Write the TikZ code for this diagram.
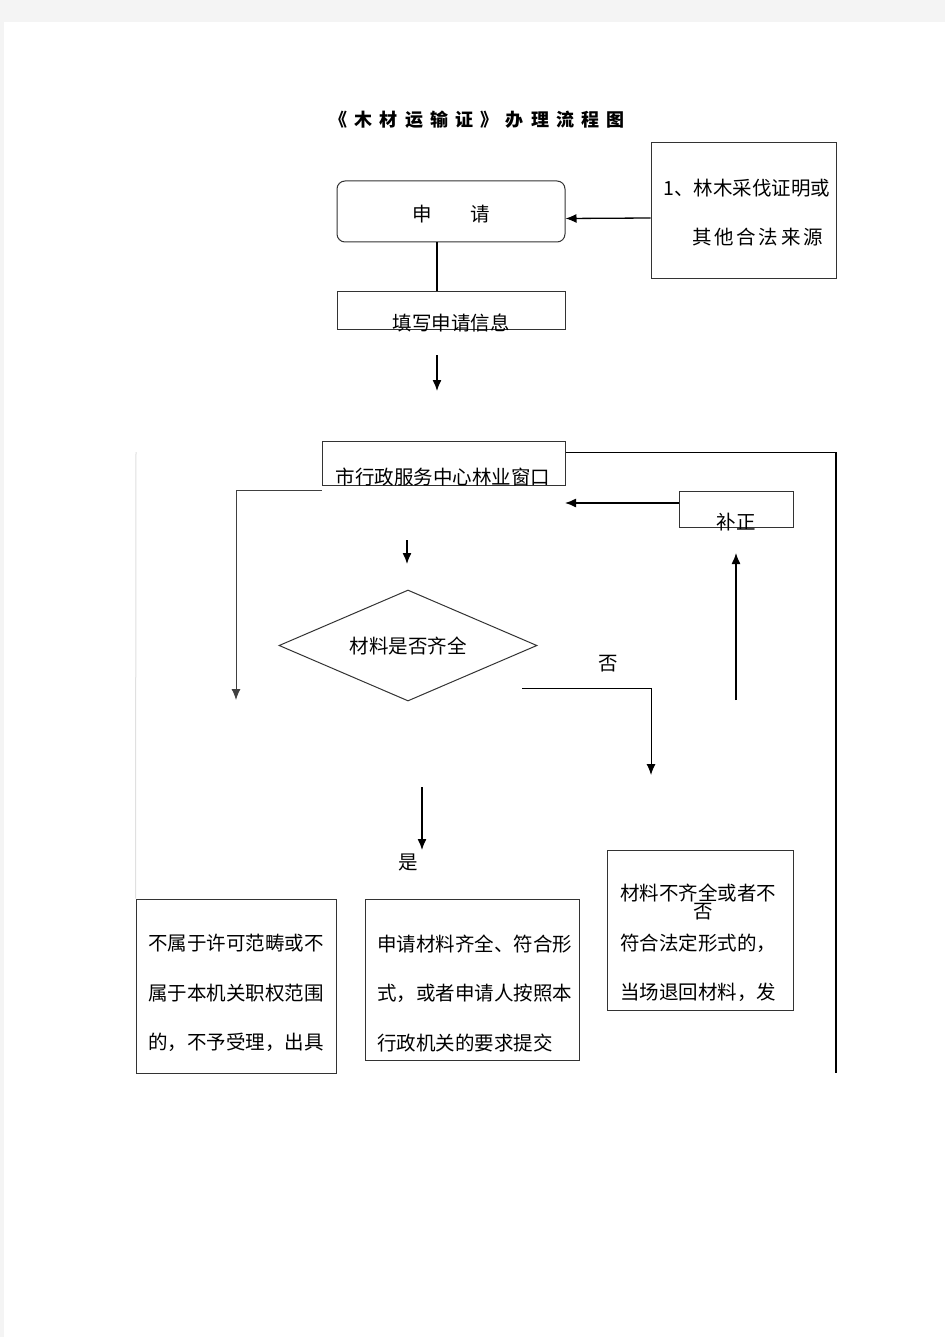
\documentclass[tikz,border=0pt]{standalone}
\usepackage{fontspec}
\usepackage{xcolor}
\newfontfamily\cjk{Noto Sans CJK SC}
\usetikzlibrary{shapes,arrows.meta}
\definecolor{pagegray}{HTML}{F4F4F4}

\begin{document}
\begin{tikzpicture}[x=1pt, y=-1pt,
	font=\cjk\fontsize{19.5}{49.5}\selectfont,
	box/.style={draw=black!80, line width=1pt, inner sep=0},
	txt/.style={inner sep=0, align=left, anchor=west},
	spaced/.style={font=\cjk\fontsize{19.5}{49.5}\selectfont\addfontfeatures{LetterSpace=14}},
	arr/.style={-{Latex[length=11pt,width=9pt]}, line width=1.3pt},
	link/.style={line width=1.2pt},
	faint/.style={draw=black!12, line width=1pt}
]
\useasboundingbox (0,0) rectangle (945,1337);
\fill[pagegray] (0,0) rectangle (945,1337);
\fill[white] (4,22) rectangle (945,1337);

\node[font=\cjk\bfseries\fontsize{18}{18}\selectfont\addfontfeatures{LetterSpace=40}] (title) at (477,120) {《木材运输证》办理流程图};

\node[box, rounded corners=8pt, minimum width=228pt, minimum height=61pt, text height=22pt, text depth=2pt] (shen) at (451,211.5) {申　　请};
\node[box, minimum width=185pt, minimum height=136pt] (src) at (743.5,211) {};
\node[txt] (srcA) at (663,188) {1、林木采伐证明或};
\node[txt, spaced] (srcB) at (692,237) {其他合法来源};

\node[box, minimum width=228pt, minimum height=37pt] (fill) at (451,310.5) {};
\node (fillT) at (451,323) {填写申请信息};

\node[box, minimum width=243pt, minimum height=44pt] (window) at (443.5,463) {};
\node (windowT) at (443,477) {市行政服务中心林业窗口};

\node[box, minimum width=114pt, minimum height=36pt] (bu) at (736,509) {};
\node (buT) at (736,522) {补正};

\node[diamond, aspect=2.32, draw=black!80, line width=1pt, inner sep=0, minimum width=258pt, minimum height=111pt] (check) at (408,645.5) {材料是否齐全};
\node (no) at (608,664) {否};
\node (yes) at (408,862) {是};

\node[box, minimum width=200pt, minimum height=174pt] (boxA) at (236,986) {};
\node[txt] (boxAT) at (148,993) {不属于许可范畴或不\\属于本机关职权范围\\的，不予受理，出具};
\node[box, minimum width=214pt, minimum height=161pt] (boxB) at (472,979.5) {};
\node[txt] (boxBT) at (377,993) {申请材料齐全、符合形\\式，或者申请人按照本\\行政机关的要求提交};
\node[box, minimum width=186pt, minimum height=160pt] (boxC) at (700,930) {};
\node[txt] (boxCT) at (620,943) {材料不齐全或者不\\符合法定形式的，\\当场退回材料，发};
\node (boxCno) at (703,912) {否};

\coordinate (a1s) at (437,355);
\coordinate (a1e) at (437,391);
\coordinate (a2s) at (407,540);
\coordinate (a2e) at (407,564);
\coordinate (noS) at (522,688);
\coordinate (noE) at (651,775);
\coordinate (upS) at (736,700);
\coordinate (upE) at (736,553);
\coordinate (yesS) at (422,787);
\coordinate (yesE) at (422,850);
\coordinate (leftEnd) at (236,700);
\coordinate (buEnd) at (565,503);
\coordinate (rEnd) at (836,1073);
\coordinate (lgTop) at (136,452);

\draw[arr] ([yshift=-7pt]src.west) -- ([yshift=-7pt]shen.east);
\draw[link] ([xshift=-14pt]shen.south) -- ([xshift=-14pt]fill.north);
\draw[arr] (a1s) -- (a1e);
\draw[link] ([yshift=-12pt]window.north east) -| (rEnd);
\draw[arr, line width=1pt, draw=black!75] ([yshift=-5pt]window.south west) -| (leftEnd);
\draw[arr] ([yshift=6pt]bu.west) -- (buEnd);
\draw[arr] (a2s) -- (a2e);
\draw[arr, line width=1pt] (noS) -| (noE);
\draw[arr] (upS) -- (upE);
\draw[arr] (yesS) -- (yesE);
\draw[faint] (lgTop) -- (boxA.north west);
\end{tikzpicture}
\end{document}
